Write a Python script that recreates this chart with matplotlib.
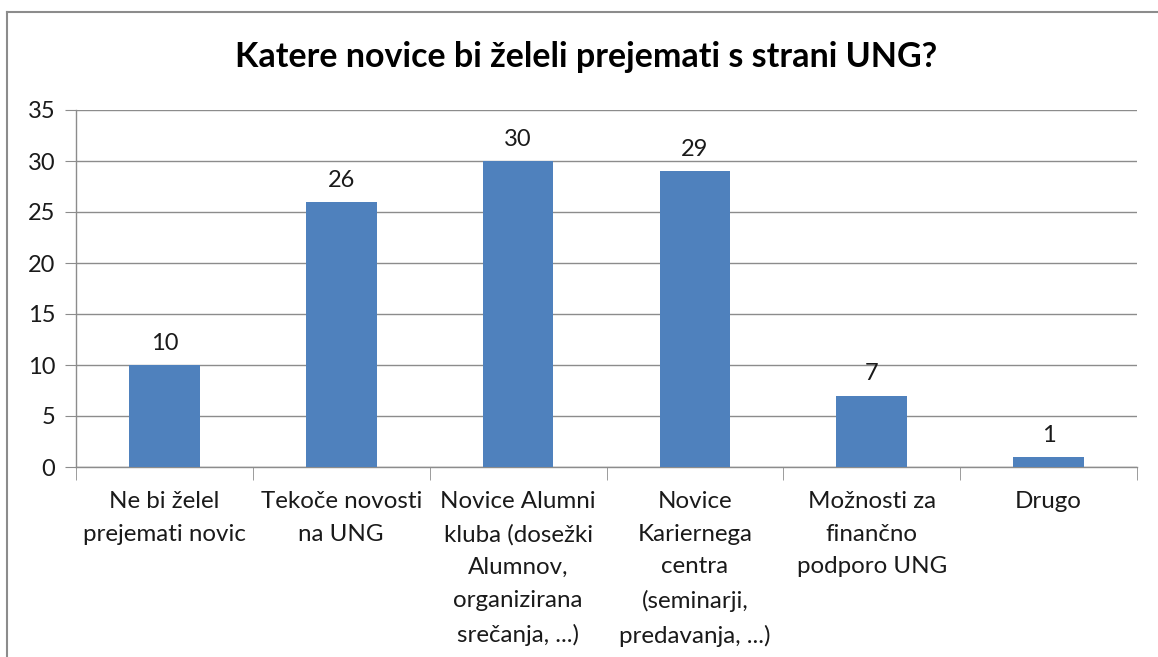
import matplotlib.pyplot as plt
from matplotlib.lines import Line2D
import numpy as np

categories = [
    "Ne bi želel\nprejemati novic",
    "Tekoče novosti\nna UNG",
    "Novice Alumni\nkluba (dosežki\nAlumnov,\norganizirana\nsrečanja, ...)",
    "Novice\nKariernega\ncentra\n(seminarji,\npredavanja, ...)",
    "Možnosti za\nfinančno\npodporo UNG",
    "Drugo",
]
values = [10, 26, 30, 29, 7, 1]
y_ticks = [0, 5, 10, 15, 20, 25, 30, 35]
title = "Katere novice bi želeli prejemati s strani UNG?"

plt.rcParams['font.family'] = ['Lato', 'DejaVu Sans']

fig = plt.figure(figsize=(11.58, 6.57), dpi=100)
W, H = 1158, 657
ax = fig.add_axes([76 / W, 1 - 467 / H, (1137 - 76) / W, (467 - 110) / H])

x = np.arange(len(values))
bars = ax.bar(x, values, width=0.4, color="#4F81BD", zorder=3)

ax.set_xlim(-0.5, len(values) - 0.5)
ax.set_ylim(0, 35)
ax.set_yticks(y_ticks)
ax.yaxis.grid(True, color="#8C8C8C", linewidth=1.0, zorder=0)

for s in ["top", "right"]:
    ax.spines[s].set_visible(False)
for s in ["left", "bottom"]:
    ax.spines[s].set_color("#8C8C8C")
    ax.spines[s].set_linewidth(1.0)

ax.tick_params(axis="y", length=8, color="#8C8C8C", labelsize=17, pad=7,
               labelcolor="#1a1a1a")
# category dividers as minor ticks on x axis
ax.set_xticks(x)
ax.set_xticklabels(categories, fontsize=17.4, linespacing=1.7, color="#1a1a1a")
ax.tick_params(axis="x", which="major", length=0, pad=17)
ax.set_xticks(np.arange(-0.5, len(values)), minor=True)
ax.tick_params(axis="x", which="minor", length=9, color="#8C8C8C")
for lbl in ax.get_xticklabels():
    lbl.set_verticalalignment("top")

for b, v in zip(bars, values):
    ax.annotate(str(v), (b.get_x() + b.get_width() / 2, v), xytext=(0, 8),
                textcoords="offset points", ha="center", va="bottom",
                fontsize=17, color="#1a1a1a")

fig.text(586 / W, 1 - 57 / H, title, ha="center", va="center",
         fontsize=24.5, fontweight="bold", color="black")

# chart border (top and left edges visible)
fig.add_artist(Line2D([7 / W, 1], [1 - 12 / H, 1 - 12 / H], color="#8C8C8C",
                      linewidth=1.5, transform=fig.transFigure))
fig.add_artist(Line2D([7 / W, 7 / W], [0, 1 - 12 / H], color="#8C8C8C",
                      linewidth=1.5, transform=fig.transFigure))

fig.savefig("out.png", dpi=100)
